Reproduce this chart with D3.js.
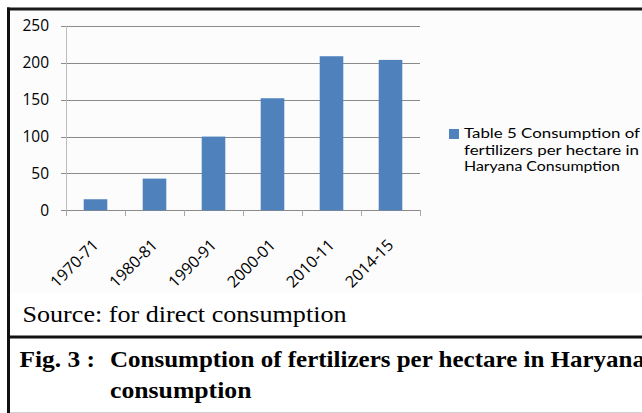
<!DOCTYPE html>
<html><head><meta charset="utf-8">
<script src="https://cdn.jsdelivr.net/npm/d3@7/dist/d3.min.js"></script>
<style>body{margin:0;background:#fff}svg{display:block}</style>
</head><body>
<svg id="c" width="642" height="413"></svg>
<script>
const categories = ["1970-71","1980-81","1990-91","2000-01","2010-11","2014-15"];
const values = [15, 43, 100, 152, 209, 204];
const yTicks = [0, 50, 100, 150, 200, 250];
const legendLines = ["Table 5 Consumption of", "fertilizers per hectare in", "Haryana Consumption"];
const sourceText = "Source: for direct consumption";
const figLabel = "Fig. 3 :";
const captionLines = ["Consumption of fertilizers per hectare in Haryana", "consumption"];

const svg = d3.select("#c");
const sans = "'Open Sans', sans-serif";
const legendFont = "Lato, 'Open Sans', sans-serif";
const serif = "'Liberation Serif', 'Times New Roman', serif";

// panel backgrounds
svg.append("rect").attr("x",0).attr("y",0).attr("width",642).attr("height",413).attr("fill","#fff");
svg.append("rect").attr("x",10).attr("y",10).attr("width",632).attr("height",283).attr("fill","#fcfcfc");

const x = d3.scaleBand().domain(categories).range([66, 420]).paddingInner(0.6).paddingOuter(0.3);
const y = d3.scaleLinear().domain([0, 250]).range([210.3, 26]);

// gridlines
svg.append("g").selectAll("line").data(yTicks).join("line")
  .attr("x1", 61).attr("x2", 420)
  .attr("y1", d => Math.round(y(d)) + 0.5).attr("y2", d => Math.round(y(d)) + 0.5)
  .attr("stroke", "#8a8a8a").attr("stroke-width", 1);

// y axis line
svg.append("line").attr("x1",66.5).attr("x2",66.5).attr("y1",Math.round(y(250))).attr("y2",Math.round(y(0))+0.5)
  .attr("stroke","#bdbdbd");

// y tick labels via axis
const yAxis = svg.append("g").attr("transform","translate(61,0)")
  .call(d3.axisLeft(y).tickValues(yTicks).tickSize(0).tickPadding(12));
yAxis.select(".domain").remove();
yAxis.selectAll("text").attr("font-family", sans).attr("font-size", 15.5).attr("fill","#000");

// x ticks at band boundaries
const step = x.step();
const x0 = x.range()[0];
svg.append("g").selectAll("line").data(d3.range(categories.length + 1)).join("line")
  .attr("x1", i => Math.round(x0 + i*step) + 0.5).attr("x2", i => Math.round(x0 + i*step) + 0.5)
  .attr("y1", Math.round(y(0))).attr("y2", Math.round(y(0)) + 6)
  .attr("stroke", "#a8a8a8");

// bars
svg.append("g").selectAll("rect").data(values).join("rect")
  .attr("x", (d,i) => x(categories[i]))
  .attr("width", x.bandwidth())
  .attr("y", d => y(d))
  .attr("height", d => y(0) - y(d))
  .attr("fill", "#4f81bd");

// x labels
svg.append("g").selectAll("text").data(categories).join("text")
  .attr("transform", d => `translate(${x(d) + x.bandwidth()/2 + 4},246) rotate(-45)`)
  .attr("text-anchor","end")
  .attr("font-family", sans).attr("font-size", 16).attr("fill","#000")
  .text(d => d);

// legend
svg.append("rect").attr("x",449).attr("y",129).attr("width",10).attr("height",10).attr("fill","#4f81bd");
const legendWidths = [176, 175, 156];
svg.append("g").selectAll("text").data(legendLines).join("text")
  .attr("x", 464).attr("y", (d,i) => 138.3 + i*16.5)
  .attr("font-family", legendFont).attr("font-size", 13.5).attr("fill","#000")
  .attr("textLength", (d,i) => legendWidths[i]).attr("lengthAdjust","spacingAndGlyphs")
  .text(d => d);

// source
svg.append("text").attr("x",22.5).attr("y",322.3)
  .attr("font-family", serif).attr("font-size", 22.5).attr("fill","#000")
  .attr("textLength", 324).attr("lengthAdjust","spacingAndGlyphs")
  .text(sourceText);

// caption
svg.append("text").attr("x",19.5).attr("y",366.7)
  .attr("font-family", serif).attr("font-weight","bold").attr("font-size", 23).attr("fill","#000")
  .attr("textLength", 75.5).attr("lengthAdjust","spacingAndGlyphs")
  .text(figLabel);
const capWidths = [535, 141.5];
svg.append("g").selectAll("text").data(captionLines).join("text")
  .attr("x", 110).attr("y", (d,i) => i === 0 ? 366.7 : 397.7)
  .attr("font-family", serif).attr("font-weight","bold").attr("font-size", 23).attr("fill","#000")
  .attr("textLength", (d,i) => capWidths[i]).attr("lengthAdjust","spacingAndGlyphs")
  .text(d => d);

// frame lines
svg.append("rect").attr("x",7).attr("y",7.5).attr("width",635).attr("height",3).attr("fill","#1a1a1a");
svg.append("rect").attr("x",7).attr("y",7.5).attr("width",3).attr("height",406).attr("fill","#111");
svg.append("rect").attr("x",7).attr("y",335.5).attr("width",635).attr("height",3).attr("fill","#111");
svg.append("line").attr("x1",10).attr("x2",642).attr("y1",412.5).attr("y2",412.5).attr("stroke","#d0d0d0");
</script>
</body></html>
